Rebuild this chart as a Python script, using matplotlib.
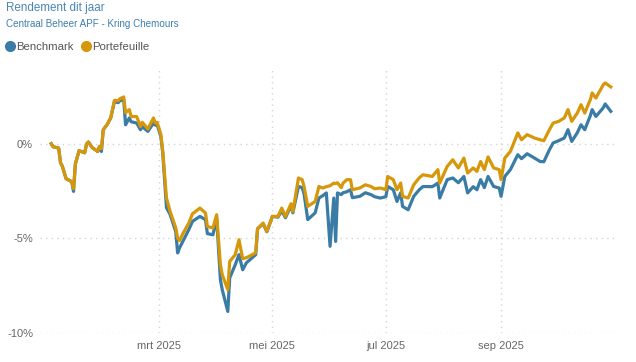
import numpy as np
import pandas as pd
import matplotlib
matplotlib.use('Agg')
from matplotlib import pyplot as plt
from matplotlib.lines import Line2D

plt.rcParams['font.family'] = ['Liberation Sans', 'DejaVu Sans']

## Data: day of 2025 (0 = 1 Jan) and return in %
day = [1, 2, 5, 6, 7, 9, 12, 13, 14, 16,
       19, 20, 21, 23, 26, 27, 28, 29, 31, 33,
       35, 37, 38, 40, 41, 43, 44, 47, 49, 50,
       53, 56, 57, 58, 60, 61, 63, 65, 68, 69,
       70, 72, 75, 77, 81, 84, 85, 88, 90, 92,
       93, 96, 97, 100, 102, 104, 106, 111, 112, 115,
       117, 120, 123, 125, 127, 130, 131, 134, 136, 137,
       139, 143, 145, 147, 149, 151, 153, 154, 155, 157,
       158, 160, 162, 163, 167, 170, 173, 175, 178, 181,
       182, 185, 187, 189, 190, 193, 196, 199, 201, 206,
       209, 210, 214, 217, 220, 223, 225, 228, 230, 232,
       234, 236, 239, 242, 243, 245, 248, 252, 254, 257,
       261, 264, 266, 269, 271, 274, 277, 279, 281, 284,
       286, 288, 291, 292, 294, 298, 299, 302]

portefeuille = [0.0, -0.16, -0.23, -1.0, -1.2, -1.85, -2.0, -2.38, -1.06, -0.37,
                -0.48, -0.02, 0.09, -0.2, -0.41, -0.14, -0.26, 0.74, 1.0, 1.36,
                2.29, 2.27, 2.38, 2.47, 1.64, 1.80, 1.44, 1.43, 0.91, 1.13,
                0.78, 1.36, 1.09, 1.13, 0.48, -0.41, -2.87, -3.59, -4.45, -4.98,
                -5.12, -4.72, -4.19, -3.70, -3.40, -3.66, -4.37, -4.45, -3.75, -6.39,
                -6.92, -7.71, -6.22, -5.86, -5.07, -6.07, -6.02, -5.76, -4.49, -4.19,
                -4.63, -3.84, -3.84, -3.40, -3.84, -3.17, -3.58, -1.81, -1.90, -2.26,
                -3.31, -3.05, -2.26, -2.34, -2.27, -2.22, -2.08, -2.11, -2.06, -2.32,
                -2.08, -1.90, -1.90, -2.43, -2.34, -2.17, -2.26, -2.38, -2.34, -2.43,
                -1.73, -1.90, -2.43, -2.08, -2.78, -2.87, -2.17, -1.80, -1.64, -1.73,
                -1.37, -2.08, -1.20, -0.85, -1.28, -0.76, -1.55, -1.28, -1.46, -0.94,
                -1.37, -0.70, -1.28, -1.37, -1.90, -0.76, -0.41, 0.57, 0.21, 0.48,
                0.30, 0.21, 0.16, 0.74, 1.09, 1.18, 1.36, 1.80, 1.18, 1.62,
                2.06, 1.62, 2.32, 2.68, 2.41, 3.12, 3.21, 3.0]

benchmark = [0.0, -0.16, -0.23, -1.0, -1.2, -1.85, -2.0, -2.52, -1.06, -0.37,
             -0.48, -0.02, 0.09, -0.2, -0.41, -0.14, -0.41, 0.74, 1.0, 1.36,
             2.22, 2.17, 2.27, 2.32, 1.0, 1.36, 1.16, 1.09, 0.74, 0.9,
             0.65, 1.09, 0.98, 1.0, 0.37, -0.48, -3.38, -3.75, -4.65, -5.77,
             -5.51, -5.12, -4.54, -4.10, -3.84, -4.01, -4.75, -4.81, -3.92, -7.18,
             -7.71, -8.86, -7.09, -6.39, -5.86, -6.66, -6.29, -5.86, -4.49, -4.23,
             -4.65, -3.84, -3.88, -3.54, -3.91, -3.28, -3.65, -2.26, -2.32, -2.64,
             -4.01, -3.65, -2.87, -2.75, -2.60, -5.42, -2.87, -5.16, -2.60, -2.69,
             -2.59, -2.54, -2.43, -2.85, -2.78, -2.59, -2.69, -2.80, -2.87, -2.80,
             -2.26, -2.43, -3.05, -2.59, -3.31, -3.49, -2.78, -2.43, -2.26, -2.27,
             -2.08, -2.87, -1.90, -1.81, -2.06, -1.73, -2.60, -2.27, -2.43, -1.90,
             -2.32, -1.73, -2.26, -2.34, -2.78, -1.73, -1.37, -0.58, -0.79, -0.53,
             -0.76, -0.94, -0.95, -0.32, 0.04, 0.16, 0.30, 0.74, 0.12, 0.58,
             1.00, 0.74, 1.48, 1.80, 1.44, 1.9, 2.1, 1.71]

xtick_dates = ['2025-03-01', '2025-05-01', '2025-07-01', '2025-09-01']
xtick_labels = ['mrt 2025', 'mei 2025', 'jul 2025', 'sep 2025']
ytick_vals = [0, -5, -10]
ytick_labels = ['0%', '-5%', '-10%']

blue = '#3a7ca5'
gold = '#d6980a'

dates = pd.Timestamp('2025-01-01') + pd.to_timedelta(day, unit='D')

fig = plt.figure(figsize=(6.36, 3.62), dpi=100)
ax = fig.add_axes([0.063, 0.080, 0.909, 0.727])

ax.plot(dates, benchmark, color=blue, lw=2.3, solid_joinstyle='round', zorder=3)
ax.plot(dates, portefeuille, color=gold, lw=2.3, solid_joinstyle='round', zorder=4)

ax.set_xlim(pd.Timestamp('2024-12-27'), pd.Timestamp('2025-11-03'))
ax.set_ylim(-10, 3.9)

ax.set_xticks(pd.to_datetime(xtick_dates))
ax.set_xticklabels(xtick_labels)
ax.set_yticks(ytick_vals)
ax.set_yticklabels(ytick_labels)
ax.tick_params(length=0, labelsize=8, colors='#666666', pad=6)
ax.tick_params(axis='y', pad=5)

ax.grid(True, color='#d4d4d4', linestyle=(0, (1, 3)), linewidth=1)
for s in ax.spines.values():
    s.set_visible(False)

# titles and legend
fig.text(0.009, 1 - 8/362, 'Rendement dit jaar', color='#4a86b4', fontsize=8.4, va='center', ha='left')
fig.text(0.009, 1 - 24/362, 'Centraal Beheer APF - Kring Chemours', color='#3d7fae', fontsize=7.1, va='center', ha='left')

handles = [Line2D([], [], marker='o', ls='', color=blue, markersize=7, label='Benchmark'),
           Line2D([], [], marker='o', ls='', color=gold, markersize=7, label='Portefeuille')]
ax.legend(handles=handles, loc='center left', bbox_to_anchor=(0.007, 1 - 47/362), bbox_transform=fig.transFigure,
          ncol=2, frameon=False, handletextpad=0.05, columnspacing=0.55, handlelength=1.0,
          borderaxespad=0, borderpad=0, labelcolor='#555555', fontsize=8.2)

fig.savefig('out.png', dpi=100)
